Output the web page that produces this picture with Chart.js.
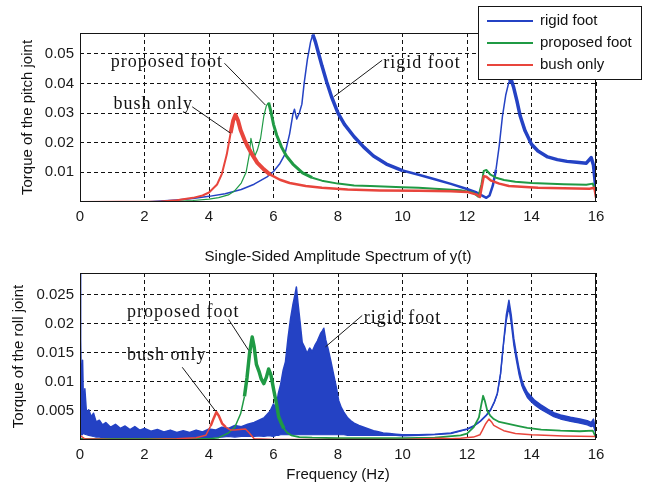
<!DOCTYPE html>
<html>
<head>
<meta charset="utf-8">
<script src="https://cdn.jsdelivr.net/npm/chart.js@4.4.1/dist/chart.umd.min.js"></script>
<style>
  body { margin: 0; background: #fff; }
  #wrap { position: relative; width: 650px; height: 488px; }
  canvas { position: absolute; left: 0; }
</style>
</head>
<body>
<div id="wrap">
  <canvas id="pitchChart" width="650" height="230" style="top:0"></canvas>
  <canvas id="rollChart" width="650" height="258" style="top:230px"></canvas>
</div>
<script>
// tick labels
const xTicks = [0, 2, 4, 6, 8, 10, 12, 14, 16];
const pitchTicks = [0.01, 0.02, 0.03, 0.04, 0.05];
const rollTicks = [0.005, 0.01, 0.015, 0.02, 0.025];
const seriesNames = ['rigid foot', 'proposed foot', 'bush only'];

// pitch joint spectrum
const pitchRigidHz = [0, 2.0, 2.5, 3.0, 3.5, 4.0, 4.5, 5.0, 5.4, 5.8, 6.0, 6.2, 6.35, 6.5, 6.6, 6.65, 6.72, 6.8, 6.88, 6.95, 7.05, 7.15, 7.22, 7.3, 7.4, 7.5, 7.65, 7.8, 8.0, 8.2, 8.5, 8.8, 9.1, 9.5, 10.0, 10.5, 11.0, 11.5, 12.0, 12.3, 12.5, 12.6, 12.7, 12.8, 12.9, 13.0, 13.1, 13.2, 13.3, 13.38, 13.45, 13.55, 13.65, 13.8, 14.0, 14.2, 14.5, 14.8, 15.1, 15.4, 15.7, 15.85, 15.92, 16.0];
const pitchRigid = [0, 0, 0.0003, 0.0007, 0.0012, 0.0019, 0.0028, 0.0042, 0.0060, 0.0085, 0.0103, 0.0130, 0.0160, 0.0230, 0.0295, 0.0313, 0.0280, 0.0300, 0.0330, 0.0400, 0.0480, 0.0540, 0.0565, 0.0540, 0.0500, 0.0460, 0.0405, 0.0355, 0.0300, 0.0262, 0.0220, 0.0185, 0.0155, 0.0128, 0.0106, 0.0092, 0.0077, 0.0061, 0.0044, 0.0032, 0.0020, 0.0014, 0.0022, 0.0055, 0.0110, 0.0190, 0.0290, 0.0360, 0.0405, 0.0410, 0.0385, 0.0340, 0.0290, 0.0240, 0.0195, 0.0172, 0.0152, 0.0143, 0.0137, 0.0134, 0.0131, 0.0150, 0.0125, 0.0040];

const pitchProposedHz = [0, 3.0, 3.5, 4.0, 4.3, 4.6, 4.8, 5.0, 5.15, 5.25, 5.3, 5.35, 5.42, 5.5, 5.6, 5.7, 5.78, 5.85, 5.92, 6.0, 6.1, 6.25, 6.4, 6.6, 6.9, 7.2, 7.5, 8.0, 8.5, 9.0, 10.0, 10.5, 11.0, 11.8, 12.2, 12.35, 12.45, 12.52, 12.6, 12.73, 12.9, 13.15, 13.5, 14.0, 15.0, 15.7, 15.9, 16.0];
const pitchProposed = [0, 0.0002, 0.0005, 0.0010, 0.0015, 0.0024, 0.0038, 0.0064, 0.0100, 0.0160, 0.0215, 0.0190, 0.0155, 0.0175, 0.0215, 0.0290, 0.0325, 0.0335, 0.0305, 0.0262, 0.0225, 0.0185, 0.0155, 0.0128, 0.0098, 0.0082, 0.0072, 0.0062, 0.0056, 0.0054, 0.0050, 0.0048, 0.0045, 0.0040, 0.0031, 0.0018, 0.0060, 0.0105, 0.0108, 0.0092, 0.0082, 0.0074, 0.0068, 0.0064, 0.0060, 0.0058, 0.0062, 0.0030];

const pitchBushHz = [0, 2.5, 3.0, 3.5, 3.8, 4.0, 4.25, 4.4, 4.55, 4.67, 4.75, 4.82, 4.9, 4.98, 5.1, 5.2, 5.35, 5.5, 5.7, 5.9, 6.2, 6.5, 7.0, 7.5, 8.3, 9.3, 10.5, 11.5, 12.0, 12.3, 12.4, 12.52, 12.6, 12.75, 13.0, 13.3, 14.2, 15.0, 15.8, 15.95, 16.0];
const pitchBush = [0, 0.0002, 0.0006, 0.0014, 0.0022, 0.0032, 0.0059, 0.0095, 0.0160, 0.0232, 0.0275, 0.0294, 0.0275, 0.0243, 0.0210, 0.0187, 0.0158, 0.0132, 0.0110, 0.0092, 0.0075, 0.0064, 0.0054, 0.0048, 0.0042, 0.0039, 0.0038, 0.0036, 0.0034, 0.0025, 0.0017, 0.0087, 0.0085, 0.0072, 0.0062, 0.0054, 0.0048, 0.0046, 0.0045, 0.0048, 0.0015];

// roll joint spectrum; the rigid foot is noisy, kept as an upper and lower trace
const rollRigidHz = [0, 0.02, 0.05, 0.08, 0.11, 0.15, 0.2, 0.27, 0.35, 0.42, 0.5, 0.6, 0.7, 0.8, 0.95, 1.1, 1.25, 1.4, 1.55, 1.7, 1.85, 2.0, 2.2, 2.4, 2.6, 2.8, 3.0, 3.2, 3.4, 3.6, 3.8, 4.0, 4.2, 4.4, 4.6, 4.8, 5.0, 5.2, 5.4, 5.55, 5.7, 5.8, 5.9, 6.0, 6.08, 6.15, 6.22, 6.3, 6.37, 6.45, 6.53, 6.6, 6.66, 6.71, 6.76, 6.82, 6.89, 6.96, 7.04, 7.12, 7.2, 7.28, 7.36, 7.46, 7.52, 7.56, 7.62, 7.7, 7.78, 7.87, 7.95, 8.02, 8.1, 8.18, 8.3, 8.4, 8.5, 8.65, 8.8, 8.95, 9.1, 9.25, 9.4, 9.6, 9.8, 10.0, 10.5, 11.0, 11.5, 12.0, 12.2, 12.42, 12.6, 12.73, 12.85, 12.94, 13.04, 13.14, 13.22, 13.3, 13.37, 13.45, 13.53, 13.61, 13.7, 13.76, 13.87, 13.97, 14.1, 14.28, 14.5, 14.69, 14.9, 15.21, 15.5, 15.73, 15.85, 15.92, 16.0];
const rollRigidHigh = [0.05, 0.0171, 0.0060, 0.0137, 0.0052, 0.0088, 0.0047, 0.0052, 0.0040, 0.0046, 0.0031, 0.0034, 0.0026, 0.0030, 0.0022, 0.0027, 0.0020, 0.0024, 0.0018, 0.0023, 0.0017, 0.0020, 0.0015, 0.0018, 0.0014, 0.0017, 0.0013, 0.0016, 0.0013, 0.0017, 0.0014, 0.0019, 0.0017, 0.0022, 0.0020, 0.0025, 0.0023, 0.0027, 0.0030, 0.0034, 0.0038, 0.0044, 0.0050, 0.0062, 0.0054, 0.0080, 0.0095, 0.0120, 0.0134, 0.0175, 0.0209, 0.0232, 0.0248, 0.0263, 0.0235, 0.0205, 0.0168, 0.0160, 0.0149, 0.0158, 0.0152, 0.0162, 0.0170, 0.0183, 0.0188, 0.0192, 0.0172, 0.0155, 0.0135, 0.0111, 0.0090, 0.0068, 0.0056, 0.0048, 0.0038, 0.0033, 0.0029, 0.0025, 0.0022, 0.0019, 0.0016, 0.0014, 0.0012, 0.0011, 0.0010, 0.0009, 0.0009, 0.0010, 0.0012, 0.0019, 0.0024, 0.0033, 0.0043, 0.0052, 0.0066, 0.0080, 0.0114, 0.0171, 0.0215, 0.0240, 0.0215, 0.0175, 0.0148, 0.0124, 0.0103, 0.0094, 0.0082, 0.0076, 0.0068, 0.0061, 0.0053, 0.0047, 0.0043, 0.0039, 0.0036, 0.0033, 0.0030, 0.0036, 0.0014];
const rollRigidLow = [0.0003, 0.0008, 0.0010, 0.0009, 0.0012, 0.0010, 0.0009, 0.0008, 0.0007, 0.0006, 0.0005, 0.0005, 0.0004, 0.0005, 0.0004, 0.0004, 0.0005, 0.0004, 0.0004, 0.0005, 0.0004, 0.0004, 0.0004, 0.0005, 0.0004, 0.0004, 0.0004, 0.0005, 0.0004, 0.0004, 0.0005, 0.0004, 0.0005, 0.0005, 0.0006, 0.0005, 0.0006, 0.0006, 0.0006, 0.0007, 0.0006, 0.0007, 0.0007, 0.0006, 0.0008, 0.0008, 0.0009, 0.0009, 0.0009, 0.0009, 0.0009, 0.0009, 0.0009, 0.0009, 0.0009, 0.0009, 0.0009, 0.0009, 0.0009, 0.0009, 0.0009, 0.0009, 0.0009, 0.0009, 0.0009, 0.0009, 0.0009, 0.0009, 0.0009, 0.0009, 0.0009, 0.0009, 0.0009, 0.0009, 0.0008, 0.0008, 0.0008, 0.0008, 0.0008, 0.0008, 0.0008, 0.0008, 0.0008, 0.0008, 0.0008, 0.0007, 0.0008, 0.0009, 0.0011, 0.0018, 0.0023, 0.0032, 0.0042, 0.0051, 0.0065, 0.0079, 0.0113, 0.0169, 0.0205, 0.0228, 0.0200, 0.0163, 0.0137, 0.0113, 0.0093, 0.0085, 0.0073, 0.0067, 0.0060, 0.0053, 0.0046, 0.0040, 0.0036, 0.0032, 0.0029, 0.0026, 0.0023, 0.0024, 0.0010];

const rollProposedHz = [0, 4.0, 4.3, 4.6, 4.8, 4.98, 5.1, 5.18, 5.26, 5.34, 5.4, 5.47, 5.55, 5.62, 5.7, 5.78, 5.85, 5.92, 6.01, 6.1, 6.16, 6.25, 6.32, 6.42, 6.55, 6.8, 7.2, 8, 9, 10, 11, 11.8, 12.0, 12.21, 12.37, 12.44, 12.5, 12.56, 12.63, 12.72, 12.83, 13.0, 13.25, 13.6, 13.87, 14.3, 14.9, 15.5, 15.9, 16.0];
const rollProposed = [0.0002, 0.0002, 0.0004, 0.0012, 0.0022, 0.0045, 0.0075, 0.0108, 0.0150, 0.0177, 0.0160, 0.0130, 0.0118, 0.0105, 0.0097, 0.0108, 0.0122, 0.0112, 0.0085, 0.0060, 0.0040, 0.0028, 0.0020, 0.0013, 0.0008, 0.0005, 0.0004, 0.0003, 0.0003, 0.0003, 0.0004, 0.0008, 0.0011, 0.0022, 0.0039, 0.0060, 0.0076, 0.0066, 0.0050, 0.0042, 0.0036, 0.0031, 0.0028, 0.0024, 0.0021, 0.0018, 0.0016, 0.0015, 0.0016, 0.0004];

const rollBushHz = [0, 0.05, 0.15, 1, 2, 3, 3.6, 3.9, 4.05, 4.15, 4.23, 4.3, 4.41, 4.52, 4.67, 4.8, 4.95, 5.13, 5.25, 5.4, 6, 8, 10, 11.2, 11.5, 11.8, 12.2, 12.4, 12.47, 12.58, 12.68, 12.76, 12.83, 13.0, 13.14, 13.5, 14.0, 15.0, 16.0];
const rollBush = [0.0008, 0.0006, 0.0002, 0.0001, 0.0001, 0.0002, 0.0004, 0.0008, 0.0024, 0.0038, 0.0048, 0.0042, 0.0028, 0.0022, 0.0017, 0.0017, 0.0018, 0.0019, 0.0012, 0.0002, 0.0001, 0.0001, 0.0001, 0.0003, 0.0002, 0.0003, 0.0005, 0.0009, 0.0016, 0.0028, 0.0036, 0.0031, 0.0025, 0.0020, 0.0016, 0.0011, 0.0009, 0.0007, 0.0006];

const BLUE = '#2442c4';
const GREEN = '#1f9a44';
const RED = '#e8453c';
const SANS = '"Liberation Sans", Arial, Helvetica, sans-serif';

Chart.defaults.font.family = SANS;
Chart.defaults.font.size = 15;
Chart.defaults.color = '#1a1a1a';

function toPoints(xs, ys) {
  return xs.map((x, i) => ({ x: x, y: ys[i] }));
}

// line width that changes along the frequency axis: [[upToHz, width], ...]
function widthAlong(steps) {
  return ctx => {
    const f = ctx.p0.parsed.x;
    for (const s of steps) if (f < s[0]) return s[1];
    return steps[steps.length - 1][1];
  };
}

function lineSet(label, xs, ys, color, steps, order) {
  return {
    label: label,
    data: toPoints(xs, ys),
    borderColor: color,
    backgroundColor: color,
    borderWidth: 1.5,
    pointRadius: 0,
    tension: 0,
    borderJoinStyle: 'round',
    fill: false,
    order: order,
    segment: { borderWidth: widthAlong(steps) }
  };
}

const framePlugin = {
  id: 'frame',
  afterDatasetsDraw(chart) {
    const { ctx, chartArea: a } = chart;
    ctx.save();
    ctx.strokeStyle = '#151515';
    ctx.lineWidth = 1;
    ctx.strokeRect(a.left + 0.5, a.top + 0.5, a.right - a.left - 1, a.bottom - a.top - 1);
    ctx.restore();
  }
};

// serif labels with a thin pointer line to the curve
const calloutPlugin = {
  id: 'callouts',
  afterDatasetsDraw(chart, args, opts) {
    const { ctx, scales } = chart;
    const px = p => [scales.x.getPixelForValue(p[0]), scales.y.getPixelForValue(p[1])];
    ctx.save();
    ctx.strokeStyle = '#1a1a1a';
    ctx.fillStyle = '#111';
    ctx.lineWidth = 1;
    ctx.font = '18px "Liberation Serif", "Times New Roman", serif';
    ctx.letterSpacing = '1px';
    ctx.textBaseline = 'middle';
    for (const c of opts.items) {
      const a = px(c.from), b = px(c.to), t = px(c.at);
      ctx.beginPath();
      ctx.moveTo(a[0], a[1]);
      ctx.lineTo(b[0], b[1]);
      ctx.stroke();
      ctx.fillText(c.text, t[0], t[1]);
    }
    ctx.restore();
  }
};

const boxLegend = {
  id: 'boxLegend',
  afterDraw(chart) {
    const ctx = chart.ctx;
    const items = chart.data.datasets.filter(d => d.label);
    ctx.save();
    ctx.fillStyle = '#fff';
    ctx.fillRect(478.5, 6.5, 163, 73);
    ctx.strokeStyle = '#151515';
    ctx.lineWidth = 1;
    ctx.strokeRect(478.5, 6.5, 163, 73);
    ctx.font = '15px ' + SANS;
    ctx.textBaseline = 'middle';
    items.forEach((d, i) => {
      const y = 21 + i * 22;
      ctx.strokeStyle = d.borderColor;
      ctx.lineWidth = 2;
      ctx.beginPath();
      ctx.moveTo(487, y);
      ctx.lineTo(533, y);
      ctx.stroke();
      ctx.fillStyle = '#111';
      ctx.fillText(d.label, 540, y);
    });
    ctx.restore();
  }
};

function axes(yMax, yTicks, yTitle, yWidth, xHeight, xTitle) {
  const grid = { color: '#111', lineWidth: 1, drawTicks: false };
  const border = { display: false, dash: [4, 3] };
  return {
    x: {
      type: 'linear', min: 0, max: 16,
      grid: grid, border: border,
      afterBuildTicks: s => { s.ticks = xTicks.map(v => ({ value: v })); },
      afterFit: s => { s.height = xHeight; },
      ticks: { padding: 6, maxRotation: 0, callback: v => String(v) },
      title: xTitle ? { display: true, text: xTitle, color: '#111', padding: { top: 4, bottom: 4 } } : { display: false }
    },
    y: {
      type: 'linear', min: 0, max: yMax,
      grid: grid, border: border,
      afterBuildTicks: s => { s.ticks = yTicks.map(v => ({ value: v })); },
      afterFit: s => { s.width = yWidth; },
      ticks: { padding: 6, callback: v => String(v) },
      title: { display: true, text: yTitle, color: '#111', padding: { top: 4, bottom: 4 } }
    }
  };
}

new Chart(document.getElementById('pitchChart'), {
  type: 'line',
  data: {
    datasets: [
      lineSet(seriesNames[0], pitchRigidHz, pitchRigid, BLUE, [[7.2, 1.5], [10, 3.5], [12.9, 2.5], [13.3, 1.5], [99, 3.5]], 3),
      lineSet(seriesNames[1], pitchProposedHz, pitchProposed, GREEN, [[5.85, 1.2], [7, 3], [99, 2]], 2),
      lineSet(seriesNames[2], pitchBushHz, pitchBush, RED, [[4.6, 2], [5.9, 4], [99, 2.5]], 1)
    ]
  },
  options: {
    responsive: false,
    animation: false,
    devicePixelRatio: 1,
    layout: { padding: { left: 15, right: 54, top: 33, bottom: 0 } },
    scales: axes(0.057, pitchTicks, 'Torque of the pitch joint', 65, 28, null),
    plugins: {
      legend: { display: false },
      tooltip: { enabled: false },
      callouts: {
        items: [
          { text: 'proposed foot', at: [0.95, 0.0472], from: [4.48, 0.0468], to: [5.75, 0.0327] },
          { text: 'bush only', at: [1.04, 0.0328], from: [3.48, 0.0321], to: [4.67, 0.0232] },
          { text: 'rigid foot', at: [9.4, 0.0469], from: [9.37, 0.0478], to: [7.87, 0.0355] }
        ]
      }
    }
  },
  plugins: [framePlugin, calloutPlugin, boxLegend]
});

const rollHigh = lineSet(seriesNames[0], rollRigidHz, rollRigidHigh, BLUE, [[99, 1.5]], 4);
rollHigh.fill = { target: 1 };
const rollLow = lineSet(null, rollRigidHz, rollRigidLow, BLUE, [[99, 1.2]], 4);

new Chart(document.getElementById('rollChart'), {
  type: 'line',
  data: {
    datasets: [
      rollHigh,
      rollLow,
      lineSet(seriesNames[1], rollProposedHz, rollProposed, GREEN, [[5.1, 1.5], [6.3, 3.5], [99, 1.8]], 2),
      lineSet(seriesNames[2], rollBushHz, rollBush, RED, [[4.0, 1.5], [4.5, 2.5], [99, 1.5]], 1)
    ]
  },
  options: {
    responsive: false,
    animation: false,
    devicePixelRatio: 1,
    layout: { padding: { left: 6, right: 54, top: 0, bottom: 0 } },
    scales: axes(0.0287, rollTicks, 'Torque of the roll joint', 74, 48, 'Frequency (Hz)'),
    plugins: {
      legend: { display: false },
      tooltip: { enabled: false },
      title: {
        display: true,
        text: 'Single-Sided Amplitude Spectrum of y(t)',
        fullSize: false,
        color: '#111',
        font: { size: 15, weight: 'normal' },
        padding: { top: 18, bottom: 7 }
      },
      callouts: {
        items: [
          { text: 'proposed foot', at: [1.46, 0.0220], from: [4.61, 0.0207], to: [5.23, 0.0154] },
          { text: 'bush only', at: [1.46, 0.01453], from: [3.17, 0.0125], to: [4.2, 0.0050] },
          { text: 'rigid foot', at: [8.8, 0.0209], from: [8.75, 0.0214], to: [7.61, 0.016] }
        ]
      }
    }
  },
  plugins: [framePlugin, calloutPlugin]
});
</script>
</body>
</html>
